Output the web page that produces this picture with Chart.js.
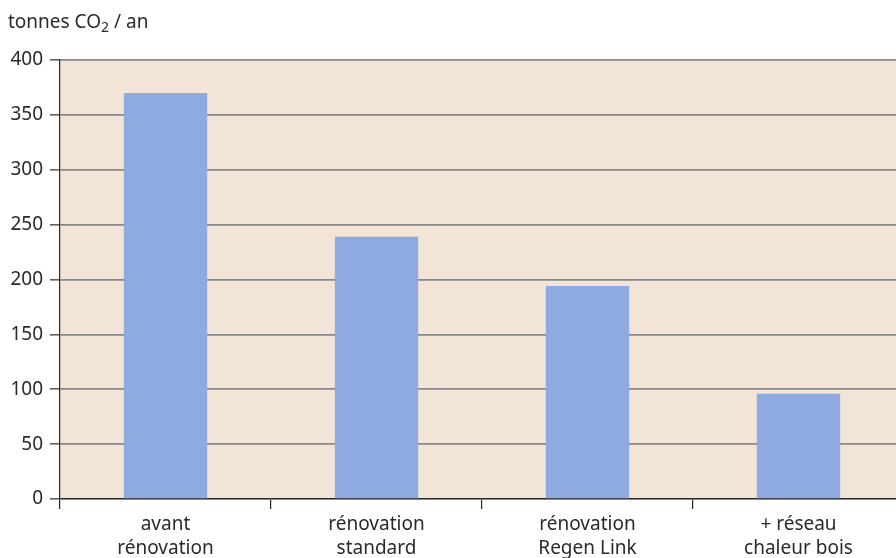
<!DOCTYPE html>
<html>
<head>
<meta charset="utf-8">
<script src="https://cdn.jsdelivr.net/npm/chart.js@4"></script>
<style>
html,body{margin:0;padding:0;background:#fff;overflow:hidden}
#wrap{position:relative;width:896px;height:558px;overflow:hidden}
#box{position:absolute;left:0;top:0;width:904px;height:558px}
#unit{position:absolute;left:8px;top:8px;font:19px "Noto Sans",sans-serif;color:#2a2a2a}
#unit sub{font-size:14px;vertical-align:-4px;line-height:0}
</style>
</head>
<body>
<div id="wrap">
<div id="box"><canvas id="c"></canvas></div>
<div id="unit">tonnes CO<sub>2</sub> / an</div>
</div>
<script>
// catégories et émissions (tonnes CO2 / an)
const categories=[["avant","rénovation"],["rénovation","standard"],["rénovation","Regen Link"],["+ réseau","chaleur bois"]]
const emissions=[370,239,194,96]
const yTicks=[0,50,100,150,200,250,300,350,400]

const bgPlugin={
id:"bg",
beforeDraw(chart){
const a=chart.chartArea,ctx=chart.ctx
ctx.save()
ctx.fillStyle="#f2e4d6"
ctx.fillRect(a.left,a.top,a.right-a.left,a.bottom-a.top)
ctx.restore()
}
}

new Chart(document.getElementById("c"),{
type:"bar",
data:{
labels:categories,
datasets:[{
data:emissions,
backgroundColor:"#8eaae0",
categoryPercentage:1,
barPercentage:0.395
}]
},
options:{
responsive:true,
maintainAspectRatio:false,
animation:false,
layout:{padding:{top:60,right:0,bottom:0,left:0}},
plugins:{legend:{display:false},tooltip:{enabled:false}},
scales:{
x:{
offset:true,
grid:{offset:true,drawOnChartArea:false,tickLength:10,color:"#2a2a2a",lineWidth:1.2},
border:{color:"#2a2a2a",width:1.2},
ticks:{color:"#2a2a2a",font:{family:"Noto Sans",size:19,lineHeight:1.3},padding:3,maxRotation:0},
afterFit(s){s.height=59}
},
y:{
min:0,max:400,
afterBuildTicks(s){s.ticks=yTicks.map(v=>({value:v}))},
grid:{color:"#888",lineWidth:1.7,tickLength:10,tickColor:"#2a2a2a",tickWidth:1.2},
border:{color:"#2a2a2a",width:1.2},
ticks:{color:"#2a2a2a",font:{family:"Noto Sans",size:19},padding:7},
afterFit(s){s.width=60}
}
}
},
plugins:[bgPlugin]
})
</script>
</body>
</html>
